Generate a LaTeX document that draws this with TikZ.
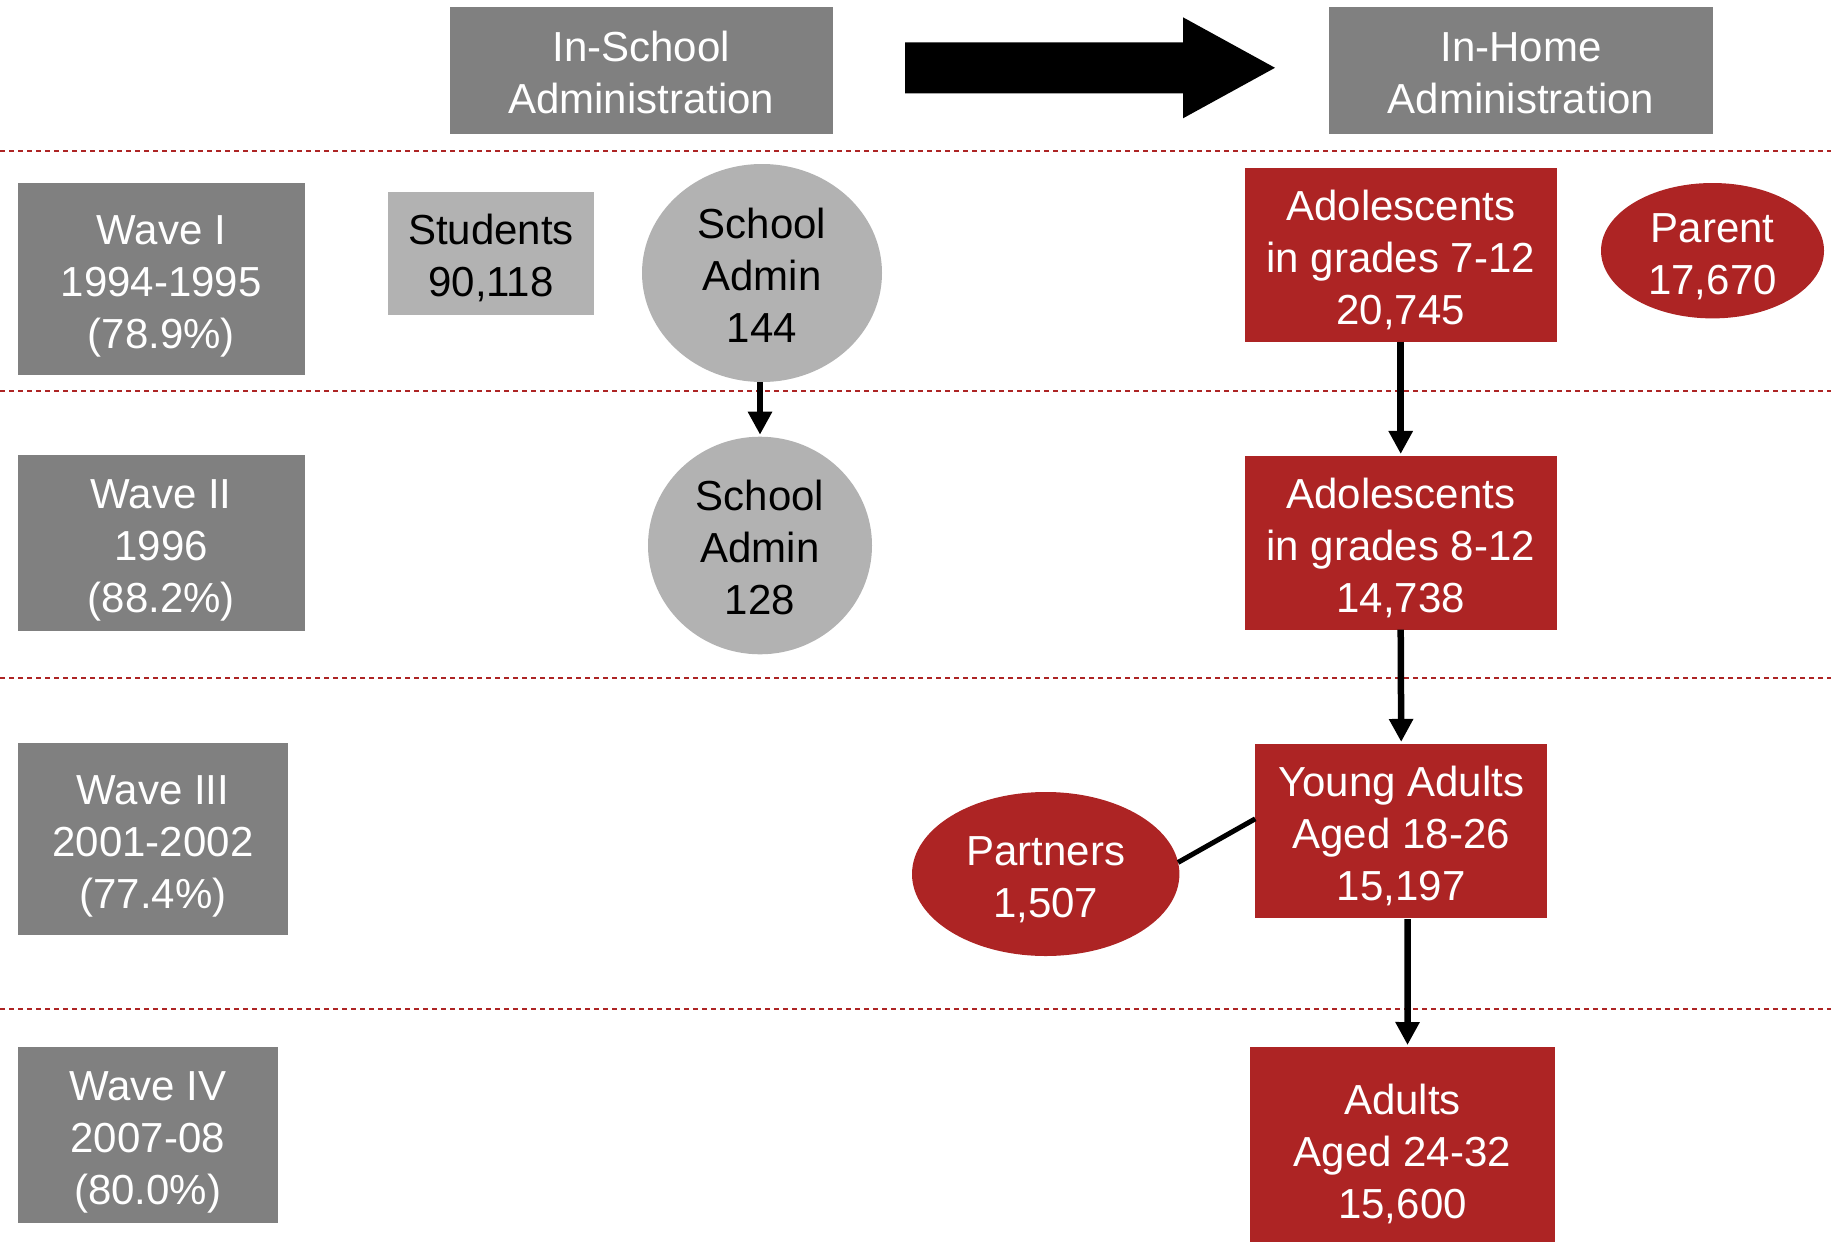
\documentclass[tikz,border=0pt]{standalone}
\usepackage{fontspec}
\usepackage{array}
\setmainfont{Liberation Sans}
\usetikzlibrary{shapes.geometric,arrows.meta,calc}
\definecolor{boxgray}{RGB}{128,128,128}
\definecolor{lightgray2}{RGB}{178,178,178}
\definecolor{addred}{RGB}{173,36,36}
\newcommand{\mlbox}[1]{{\renewcommand{\arraystretch}{0}\begin{tabular}{@{}>{\rule{0pt}{43.3pt}}c<{\rule[-8.7pt]{0pt}{8.7pt}}@{}}#1\end{tabular}}}
\begin{document}
\begin{tikzpicture}[x=1pt,y=-1pt,
  every node/.style={inner sep=0pt,outer sep=0pt,font=\fontsize{42}{52}\selectfont},
  graybox/.style={rectangle,fill=boxgray,text=white},
  lightbox/.style={rectangle,fill=lightgray2,text=black},
  redbox/.style={rectangle,fill=addred,text=white},
  grayell/.style={ellipse,inner sep=-20pt,fill=lightgray2,text=black},
  redell/.style={ellipse,inner sep=-20pt,fill=addred,text=white},
  sep/.style={addred,line width=2.2pt,dash pattern=on 5pt off 4pt},
  arr/.style={black,line width=6.5pt,shorten >=2pt,-{Triangle[length=23pt,width=23pt]}},
  conn/.style={black,line width=5pt}
]
\useasboundingbox (0,0) rectangle (1831,1242);
\clip (0,0) rectangle (1831,1242);

% separators
\draw[sep] (0,150.7) -- (1831,150.7);
\draw[sep] (0,390.7) -- (1831,390.7);
\draw[sep] (0,677.7) -- (1831,677.7);
\draw[sep] (0,1009.3) -- (1831,1009.3);

% headers
\node[graybox,minimum width=383pt,minimum height=127pt] (inschool) at (641.1,70.5) {\mlbox{In-School\\Administration}};
\node[graybox,minimum width=384pt,minimum height=127pt] (inhome) at (1521,70.5) {\mlbox{In-Home\\Administration}};
\fill[black] (905,42.3) -- (1183,42.3) -- (1183,17.3) -- (1275,67.8) -- (1183,118.3) -- (1183,93.3) -- (905,93.3) -- cycle;

% wave labels
\node[graybox,minimum width=287.3pt,minimum height=191.7pt] (w1) at (161.2,278.9) {\mlbox{Wave I\\1994-1995\\(78.9\%)}};
\node[graybox,minimum width=287.3pt,minimum height=175.7pt] (w2) at (161.2,542.8) {\mlbox{Wave II\\1996\\(88.2\%)}};
\node[graybox,minimum width=270.9pt,minimum height=191.7pt] (w3) at (153,838.8) {\mlbox{Wave III\\2001-2002\\(77.4\%)}};
\node[graybox,minimum width=260.4pt,minimum height=175.7pt] (w4) at (147.7,1134.8) {\mlbox{Wave IV\\2007-08\\(80.0\%)}};

% in-school column
\node[lightbox,minimum width=206.7pt,minimum height=122.7pt] (students) at (491,253.3) {\mlbox{Students\\90,118}};
\node[grayell,minimum width=240pt,minimum height=218pt] (sa1) at (762,273) {\mlbox{School\\Admin\\144}};
\node[grayell,minimum width=224pt,minimum height=217.6pt] (sa2) at (760,545.5) {\mlbox{School\\Admin\\128}};

% in-home column
\node[redbox,minimum width=311.8pt,minimum height=173.7pt] (ad1) at (1400.7,254.8) {\mlbox{Adolescents\\in grades 7-12\\20,745}};
\node[redell,minimum width=223pt,minimum height=135.4pt] (parent) at (1712.5,250.7) {\mlbox{Parent\\17,670}};
\node[redbox,minimum width=311.8pt,minimum height=173.7pt] (ad2) at (1400.7,542.8) {\mlbox{Adolescents\\in grades 8-12\\14,738}};
\node[redbox,minimum width=291.9pt,minimum height=173.7pt] (ya) at (1401.2,830.8) {\mlbox{Young Adults\\Aged 18-26\\15,197}};
\node[redell,minimum width=267.4pt,minimum height=164pt] (partners) at (1045.7,874) {\mlbox{Partners\\1,507}};
\node[redbox,minimum width=305.9pt,minimum height=204pt] (adults) at (1402.5,1149) {\mlbox{Adults\\Aged 24-32\\15,600}};

% connectors
\coordinate (yafoot) at ([xshift=6.5pt,yshift=-1.5pt]ya.south);
\coordinate (adtop) at ([xshift=5pt]adults.north);
\draw[arr] (sa2.north |- sa1.south) -- (sa2.north);
\draw[arr] (ad1.south) -- (ad2.north);
\draw[arr] (ad2.south) -- (ya.north);
\draw[arr] (yafoot) -- (adtop);
\draw[conn] (partners.5) -- ([yshift=12pt]ya.west);
\end{tikzpicture}
\end{document}
